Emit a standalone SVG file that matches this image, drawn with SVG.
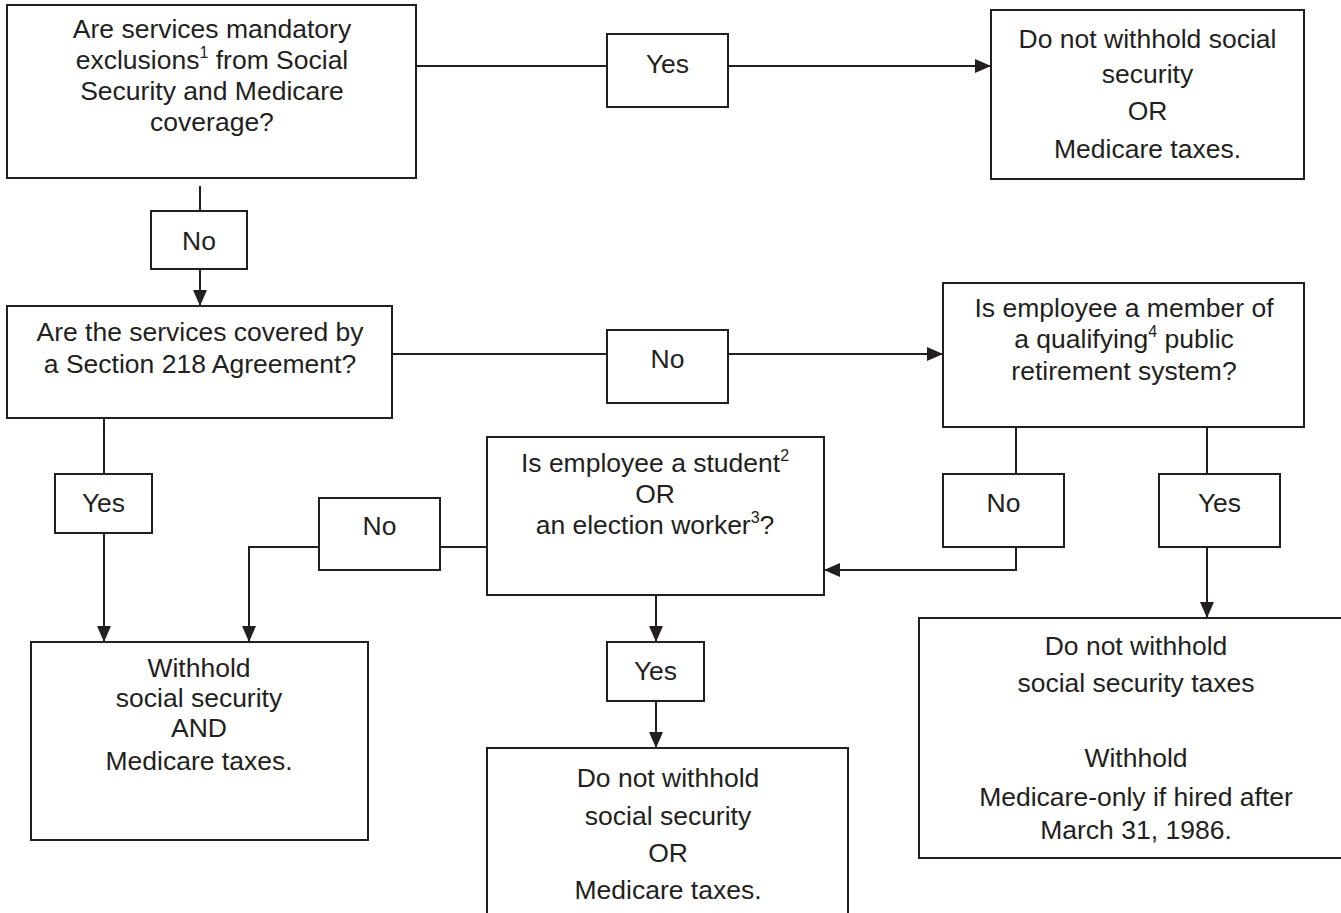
<svg xmlns="http://www.w3.org/2000/svg" width="1341" height="913" viewBox="0 0 1341 913">
<style>
.box{fill:#fff;stroke:#231f20;stroke-width:2}
.lbl{fill:#fff;stroke:#231f20;stroke-width:2}
text{font-family:"Liberation Sans",Arial,sans-serif;font-size:26.5px;fill:#231f20;text-anchor:middle}
.sup{font-size:16px}
.c{fill:none;stroke:#231f20;stroke-width:2}
</style>
<defs>
<marker id="ah" markerUnits="userSpaceOnUse" markerWidth="16" markerHeight="14" refX="16" refY="7" orient="auto">
<path d="M0,0 L16,7 L0,14 z" fill="#231f20"/>
</marker>
</defs>
<rect width="1341" height="913" fill="#fff"/>
<g id="connectors">
<line class="c" x1="416" y1="66" x2="607" y2="66"/>
<line class="c" x1="728" y1="66" x2="991" y2="66" marker-end="url(#ah)"/>
<line class="c" x1="200" y1="186" x2="200" y2="211"/>
<line class="c" x1="200" y1="269" x2="200" y2="306" marker-end="url(#ah)"/>
<line class="c" x1="392" y1="354" x2="607" y2="354"/>
<line class="c" x1="728" y1="354" x2="943" y2="354" marker-end="url(#ah)"/>
<line class="c" x1="104" y1="403" x2="104" y2="474"/>
<line class="c" x1="104" y1="533" x2="104" y2="642" marker-end="url(#ah)"/>
<line class="c" x1="487" y1="547" x2="440" y2="547"/>
<path class="c" d="M319,547 H249 V642" marker-end="url(#ah)"/>
<line class="c" x1="1016" y1="427" x2="1016" y2="474"/>
<path class="c" d="M1016,547 V570 H824" marker-end="url(#ah)"/>
<line class="c" x1="1207" y1="427" x2="1207" y2="474"/>
<line class="c" x1="1207" y1="547" x2="1207" y2="618" marker-end="url(#ah)"/>
<line class="c" x1="656" y1="595" x2="656" y2="642" marker-end="url(#ah)"/>
<line class="c" x1="656" y1="701" x2="656" y2="748" marker-end="url(#ah)"/>
</g>
<g id="q1">
<rect class="box" x="7" y="5" width="409" height="173"/>
<text x="212" y="38">Are services mandatory</text>
<text x="212" y="69">exclusions<tspan class="sup" dy="-11">1</tspan><tspan dy="11"> from Social</tspan></text>
<text x="212" y="100">Security and Medicare</text>
<text x="212" y="131">coverage?</text>
</g>
<g id="yes1">
<rect class="lbl" x="607" y="34" width="121" height="73"/>
<text x="667.5" y="73">Yes</text>
</g>
<g id="r1">
<rect class="box" x="991" y="10" width="313" height="169"/>
<text x="1147.5" y="48">Do not withhold social</text>
<text x="1147.5" y="83">security</text>
<text x="1147.5" y="120">OR</text>
<text x="1147.5" y="158">Medicare taxes.</text>
</g>
<g id="no1">
<rect class="lbl" x="151" y="211" width="96" height="58"/>
<text x="199" y="250">No</text>
</g>
<g id="q2">
<rect class="box" x="7" y="306" width="385" height="112"/>
<text x="200" y="341">Are the services covered by</text>
<text x="200" y="373">a Section 218 Agreement?</text>
</g>
<g id="no2">
<rect class="lbl" x="607" y="330" width="121" height="73"/>
<text x="667.5" y="368">No</text>
</g>
<g id="q3">
<rect class="box" x="943" y="283" width="361" height="144"/>
<text x="1124" y="317">Is employee a member of</text>
<text x="1124" y="348">a qualifying<tspan class="sup" dy="-11">4</tspan><tspan dy="11"> public</tspan></text>
<text x="1124" y="380">retirement system?</text>
</g>
<g id="yes2">
<rect class="lbl" x="55" y="474" width="97" height="59"/>
<text x="103.5" y="512">Yes</text>
</g>
<g id="q4">
<rect class="box" x="487" y="437" width="337" height="158"/>
<text x="655" y="472">Is employee a student<tspan class="sup" dy="-11">2</tspan></text>
<text x="655" y="503">OR</text>
<text x="655" y="534">an election worker<tspan class="sup" dy="-11">3</tspan><tspan dy="11">?</tspan></text>
</g>
<g id="no3">
<rect class="lbl" x="319" y="498" width="121" height="72"/>
<text x="379.5" y="535">No</text>
</g>
<g id="no4">
<rect class="lbl" x="943" y="474" width="121" height="73"/>
<text x="1003.5" y="512">No</text>
</g>
<g id="yes3">
<rect class="lbl" x="1159" y="474" width="121" height="73"/>
<text x="1219.5" y="512">Yes</text>
</g>
<g id="r2">
<rect class="box" x="31" y="642" width="337" height="198"/>
<text x="199" y="677">Withhold</text>
<text x="199" y="707">social security</text>
<text x="199" y="737">AND</text>
<text x="199" y="770">Medicare taxes.</text>
</g>
<g id="yes4">
<rect class="lbl" x="607" y="642" width="97" height="59"/>
<text x="655.5" y="680">Yes</text>
</g>
<g id="r3">
<rect class="box" x="919" y="618" width="440" height="240"/>
<text x="1136" y="655">Do not withhold</text>
<text x="1136" y="692">social security taxes</text>
<text x="1136" y="767">Withhold</text>
<text x="1136" y="806">Medicare-only if hired after</text>
<text x="1136" y="839">March 31, 1986.</text>
</g>
<g id="r4">
<rect class="box" x="487" y="748" width="361" height="190"/>
<text x="668" y="787">Do not withhold</text>
<text x="668" y="825">social security</text>
<text x="668" y="862">OR</text>
<text x="668" y="899">Medicare taxes.</text>
</g>
</svg>
